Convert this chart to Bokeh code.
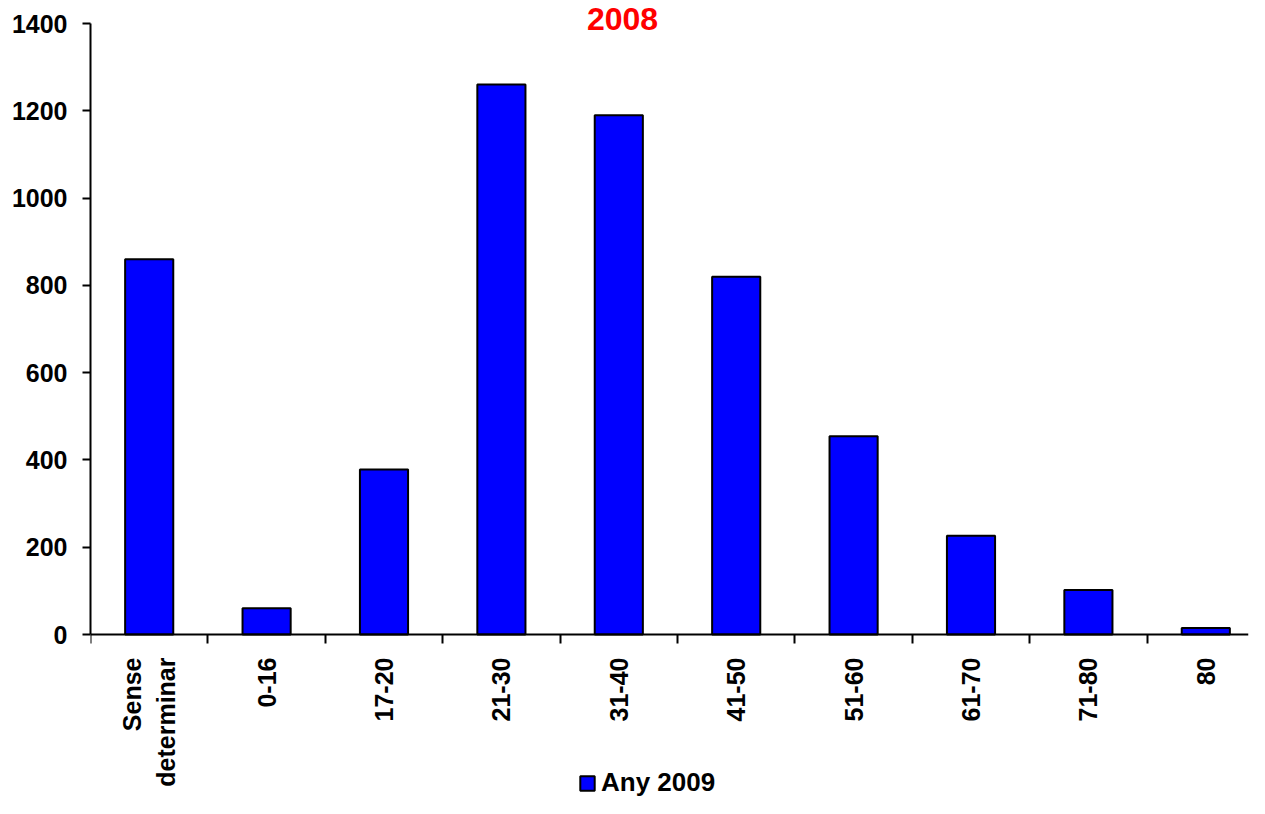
import math
from bokeh.plotting import figure
from bokeh.models import Range1d, FixedTicker, Legend, LegendItem, Label
from bokeh.embed import file_html
from bokeh.resources import INLINE

categories = ["Sense\ndeterminar", "0-16", "17-20", "21-30", "31-40", "41-50",
              "51-60", "61-70", "71-80", "80"]
values = [860, 60, 378, 1260, 1190, 820, 454, 226, 102, 15]
y_ticks = [0, 200, 400, 600, 800, 1000, 1200, 1400]
title_text = "2008"
series_name = "Any 2009"

FONT = "Liberation Sans"
n = len(categories)
xs = [i + 0.5 for i in range(n)]

W, H = 1249, 798
LEFT = 90
Y_TOP_PX, Y_ZERO_PX = 23, 634          # pixel rows of 1400 and 0
YMAX = 1400
ppu = (Y_ZERO_PX - Y_TOP_PX) / YMAX     # pixels per unit
frame_w = W - LEFT - 1
cat_px = 117.4                          # pixel width of one category

p = figure(width=W, height=H, output_backend="svg", toolbar_location=None,
           x_range=Range1d(0, frame_w / cat_px),
           y_range=Range1d(-(H - Y_ZERO_PX) / ppu, YMAX + Y_TOP_PX / ppu),
           min_border_left=LEFT, min_border_right=1, min_border_top=0,
           min_border_bottom=0)
p.outline_line_color = None
p.xgrid.visible = False
p.ygrid.visible = False

r = p.vbar(x=xs, top=values, width=0.41, fill_color="#0000FF",
           line_color="black", line_width=2)

# x axis (drawn at y = 0)
xa = p.xaxis[0]
xa.fixed_location = 0
xa.ticker = FixedTicker(ticks=xs, minor_ticks=list(range(n + 1)))
xa.major_label_overrides = {x: c for x, c in zip(xs, categories)}
xa.major_label_orientation = math.pi / 2
xa.major_tick_out = 0
xa.major_tick_in = 0
xa.minor_tick_out = 9
xa.minor_tick_in = 0
xa.minor_tick_line_width = 2
xa.minor_tick_line_color = "black"
xa.axis_line_width = 2
xa.axis_line_color = "black"
xa.major_label_standoff = 14
xa.major_label_text_font = FONT
xa.major_label_text_font_style = "bold"
xa.major_label_text_font_size = "25px"
xa.major_label_text_color = "black"

# y axis
ya = p.yaxis[0]
ya.bounds = (0, YMAX)
ya.ticker = FixedTicker(ticks=y_ticks)
ya.minor_tick_out = 0
ya.minor_tick_in = 0
ya.major_tick_out = 8
ya.major_tick_in = 0
ya.major_tick_line_width = 2
ya.axis_line_width = 2
ya.axis_line_color = "black"
ya.major_label_standoff = 15
ya.major_label_text_font = FONT
ya.major_label_text_font_style = "bold"
ya.major_label_text_font_size = "25px"
ya.major_label_text_color = "black"

# title
t = Label(x=(622 - LEFT) / cat_px, y=YMAX + (Y_TOP_PX - 18) / ppu,
          text=title_text, text_align="center", text_baseline="middle",
          text_color="#FF0000", text_font=FONT, text_font_style="bold",
          text_font_size="32px")
p.add_layout(t)

legend = Legend(items=[LegendItem(label=series_name, renderers=[r])],
                location=(578 - LEFT, 0), orientation="horizontal",
                padding=0, margin=0, border_line_color=None,
                background_fill_alpha=0, glyph_width=18, glyph_height=18,
                label_standoff=5, label_text_font=FONT, label_text_color="black",
                label_text_font_style="bold", label_text_font_size="26px")
p.add_layout(legend, "center")

open("out.html", "w").write(file_html(p, INLINE))
